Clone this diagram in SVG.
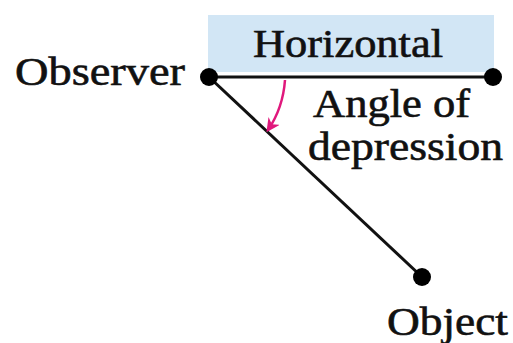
<svg xmlns="http://www.w3.org/2000/svg" width="513" height="343" viewBox="0 0 513 343">
<style>
text{font-family:"Liberation Serif","Times New Roman",serif;font-size:39px;fill:#111;stroke:#111;stroke-width:0.6}
.ln{stroke:#111;stroke-width:3;fill:none}
.dot{fill:#000}
</style>
<defs>
<marker id="ah" viewBox="0 0 10 10" refX="8" refY="5" markerWidth="5.5" markerHeight="5.5" orient="auto-start-reverse">
<path d="M0,0 L10,5 L0,10 L3,5 Z" fill="#e0187c"/>
</marker>
</defs>
<rect width="513" height="343" fill="#fff"/>
<rect x="208" y="15" width="286" height="57" fill="#d2e6f5"/>
<g id="connectors">
<line class="ln" x1="209" y1="77" x2="493" y2="77"/>
<line class="ln" x1="209" y1="77" x2="422" y2="277"/>
<path d="M285,80 Q283,108 268,130" stroke="#e0187c" stroke-width="2.5" fill="none" marker-end="url(#ah)"/>
</g>
<g id="observer">
<circle class="dot" cx="209" cy="77" r="9"/>
<text x="15" y="85" textLength="170" lengthAdjust="spacingAndGlyphs">Observer</text>
</g>
<g id="horizontal-end">
<circle class="dot" cx="493" cy="77" r="9"/>
</g>
<g id="horizontal">
<text x="253" y="57" textLength="190" lengthAdjust="spacingAndGlyphs">Horizontal</text>
</g>
<g id="angle">
<text x="313" y="117" textLength="157" lengthAdjust="spacingAndGlyphs">Angle of</text>
<text x="308" y="160" textLength="195" lengthAdjust="spacingAndGlyphs">depression</text>
</g>
<g id="object">
<circle class="dot" cx="422" cy="277" r="9"/>
<text x="387" y="335" textLength="121" lengthAdjust="spacingAndGlyphs">Object</text>
</g>
</svg>
